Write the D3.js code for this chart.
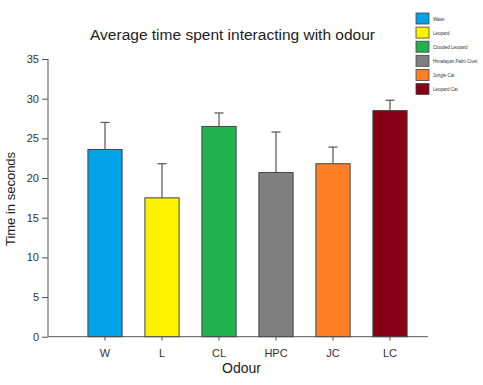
<!DOCTYPE html>
<html>
<head>
<meta charset="utf-8">
<script src="https://cdn.jsdelivr.net/npm/d3@7"></script>
<style>
  body { margin: 0; background: #fff; }
  text { font-family: Arial, "Liberation Sans", sans-serif; }
</style>
</head>
<body>
<div id="chart"></div>
<script>
// data
let odours = ["W", "L", "CL", "HPC", "JC", "LC"]
let names = ["Water", "Leopard", "Clouded Leopard", "Himalayan Palm Civet", "Jungle Cat", "Leopard Cat"]
let means = [23.6, 17.5, 26.5, 20.7, 21.8, 28.5]
let errors = [3.4, 4.3, 1.7, 5.1, 2.1, 1.3]
let colours = ["#00a2e8", "#fff200", "#22b14c", "#7f7f7f", "#ff7f27", "#880015"]
let yTicks = [0, 5, 10, 15, 20, 25, 30, 35]

let width = 483, height = 385
let axisColour = "#555"

let svg = d3.select("#chart")
    .append("svg")
        .attr("width", width)
        .attr("height", height)

// scales
let x = d3.scaleBand()
    .domain(odours)
    .range([76.5, 418.5])
    .paddingInner(0.4)
    .paddingOuter(0.2)

let y = d3.scaleLinear()
    .domain([0, 35])
    .range([336.7, 59])

//y axis
let yAxis = svg.append("g")
    .attr("transform", "translate(48,0)")
    .call(d3.axisLeft(y).tickValues(yTicks).tickSize(6).tickPadding(3))
yAxis.select(".domain").attr("stroke", axisColour).attr("d", `M0,${y(35)}V${y(0)}`)
yAxis.selectAll(".tick line").attr("stroke", axisColour)
yAxis.selectAll(".tick text").style("font-size", "11px").attr("fill", "#333")

//x axis - line runs past the last bar
let xAxis = svg.append("g")
    .attr("transform", `translate(0,${y(0)})`)
    .call(d3.axisBottom(x).tickSize(4).tickPadding(9))
xAxis.select(".domain").attr("stroke", axisColour).attr("d", "M48,0H428")
xAxis.selectAll(".tick line").attr("stroke", axisColour)
xAxis.selectAll(".tick text").style("font-size", "11px").attr("fill", "#333")

// bars
svg.selectAll("rect.bar")
    .data(odours)
    .enter()
    .append("rect")
    .attr("class", "bar")
    .attr("x", d => x(d))
    .attr("width", x.bandwidth())
    .attr("y", (d, i) => y(means[i]))
    .attr("height", (d, i) => y(0) - y(means[i]))
    .attr("fill", (d, i) => colours[i])
    .attr("stroke", "#444")
    .attr("stroke-width", 1)

// error bars (upper only)
let err = svg.selectAll("g.err")
    .data(odours)
    .enter()
    .append("g")
    .attr("class", "err")
    .attr("transform", d => `translate(${x(d) + x.bandwidth() / 2},0)`)

err.append("line")
    .attr("y1", (d, i) => y(means[i]))
    .attr("y2", (d, i) => y(means[i] + errors[i]))
    .attr("stroke", axisColour)
    .attr("stroke-width", 1.2)

err.append("line")
    .attr("x1", -4.5).attr("x2", 4.5)
    .attr("y1", (d, i) => y(means[i] + errors[i]))
    .attr("y2", (d, i) => y(means[i] + errors[i]))
    .attr("stroke", axisColour)
    .attr("stroke-width", 1.2)

//titles
svg.append("text")
    .attr("x", 232.5)
    .attr("y", 40)
    .style("text-anchor", "middle")
    .style("font-size", "15.5px")
    .attr("fill", "#222")
    .text("Average time spent interacting with odour")

svg.append("text")
    .attr("transform", "translate(15,199) rotate(-90)")
    .style("text-anchor", "middle")
    .style("font-size", "13px")
    .attr("fill", "#222")
    .text("Time in seconds")

svg.append("text")
    .attr("x", 241.5)
    .attr("y", 373)
    .style("text-anchor", "middle")
    .style("font-size", "14px")
    .attr("fill", "#222")
    .text("Odour")

// legend
let leg = svg.append("g")
    .attr("class", "legend")
    .attr("transform", "translate(416,13)")

let item = leg.selectAll("g")
    .data(names)
    .enter()
    .append("g")
    .attr("transform", (d, i) => `translate(0,${i * 14.1})`)

item.append("rect")
    .attr("width", 13)
    .attr("height", 11)
    .attr("fill", (d, i) => colours[i])
    .attr("stroke", "#444")
    .attr("stroke-width", 0.8)

item.append("text")
    .attr("x", 17)
    .attr("y", 7.5)
    .style("font-size", "4.5px")
    .attr("fill", "#333")
    .text(d => d)
</script>
</body>
</html>
